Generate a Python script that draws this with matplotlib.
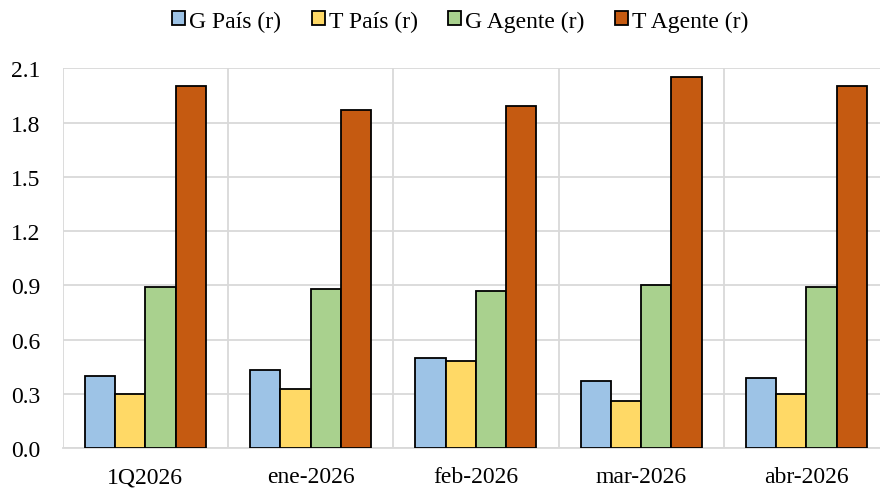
import numpy as np
import matplotlib
matplotlib.use("Agg")
import matplotlib.pyplot as plt
from matplotlib.ticker import FixedLocator, FormatStrFormatter

# data
categories = ["1Q2026", "ene-2026", "feb-2026", "mar-2026", "abr-2026"]
g_pais = [0.40, 0.43, 0.50, 0.37, 0.39]
t_pais = [0.30, 0.33, 0.48, 0.26, 0.30]
g_agente = [0.89, 0.88, 0.87, 0.90, 0.89]
t_agente = [2.00, 1.87, 1.89, 2.05, 2.00]

series_names = ["G País (r)", "T País (r)", "G Agente (r)", "T Agente (r)"]
series_values = [g_pais, t_pais, g_agente, t_agente]
colors = ["#9DC3E6", "#FFD966", "#A9D18E", "#C55A11"]

plt.rcParams['font.family'] = ['Liberation Serif', 'DejaVu Serif']

fig = plt.figure(figsize=(8.8, 4.89), dpi=100)
ax = fig.add_axes([0.0713, 0.0812, 0.939, 0.777])

x = np.arange(len(categories))
bar_w = 0.183
for i, (name, vals) in enumerate(zip(series_names, series_values)):
    ax.bar(x + (i - 1.5) * bar_w, vals, width=bar_w, color=colors[i],
           edgecolor="black", linewidth=1.3, label=name, zorder=3)

ax.set_xlim(-0.5, len(categories) - 0.5)
ax.set_ylim(0, 2.1)
ax.set_yticks(np.arange(0, 2.11, 0.3))
ax.yaxis.set_major_formatter(FormatStrFormatter("%.1f"))
ax.set_xticks(x)
ax.set_xticklabels(categories)
ax.xaxis.set_minor_locator(FixedLocator(np.arange(-0.5, len(categories), 1.0)))

ax.grid(axis="y", which="major", color="#D9D9D9", linewidth=1.3, zorder=0)
ax.grid(axis="x", which="minor", color="#D9D9D9", linewidth=1.3, zorder=0)
ax.tick_params(axis="both", which="both", length=0, labelsize=17, colors="black")
ax.tick_params(axis="x", pad=13)
ax.tick_params(axis="y", pad=16)

for side in ["top", "right", "left"]:
    ax.spines[side].set_visible(False)
ax.spines["bottom"].set_color("#D9D9D9")
ax.spines["bottom"].set_linewidth(1.3)

fig.legend(loc="upper center", bbox_to_anchor=(0.523, 1.02), ncol=4, frameon=False,
           fontsize=17, handlelength=0.55, handleheight=0.55, handletextpad=0.17,
           columnspacing=1.3)

fig.savefig("out.png", dpi=100)
